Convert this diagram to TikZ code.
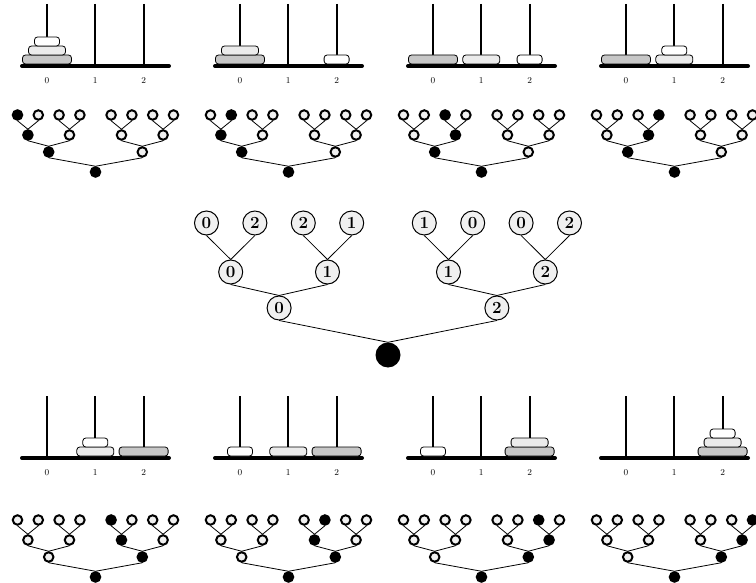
\documentclass[tikz,border=0pt]{standalone}
\usetikzlibrary{calc}

\definecolor{diskbig}{gray}{0.78}
\definecolor{diskmid}{gray}{0.92}
\definecolor{nodefill}{gray}{0.94}

\tikzset{
  peg/.style={line width=1.8pt},
  base/.style={line width=4pt, line cap=round},
  disk/.style={draw, line width=0.8pt, rounded corners=3pt, minimum height=9pt, inner sep=0pt},
  peglabel/.style={font=\fontsize{9}{9}\selectfont, inner sep=0pt},
  tn0/.style={circle, draw, line width=2pt, fill=nodefill, minimum size=9.5pt, inner sep=0pt},
  tn1/.style={circle, draw, line width=2pt, fill=black, minimum size=9.5pt, inner sep=0pt},
  tedge/.style={line width=0.8pt},
  bignode/.style={circle, draw, line width=1pt, fill=nodefill, minimum size=24pt, inner sep=0pt,
                  font=\fontsize{17}{17}\bfseries\selectfont},
  bigroot/.style={circle, fill=black, minimum size=25pt, inner sep=0pt},
  bigedge/.style={line width=0.8pt},
}

% #1 name, #2 x offset, #3 y offset of the tower, #4 y of the tree root,
% #5 #6 #7 pegs of the large, middle and small disk, #8 highlighted leaf
\newcommand\hanoipanel[8]{%
  % pegs, base and peg numbers
  \foreach \p in {0,1,2} {
    \draw[peg] ({#2+47+48.3*\p},{#3+4}) -- ({#2+47+48.3*\p},{#3+66});
    \node[peglabel] (#1-n\p) at ({#2+47+48.3*\p},{#3+81}) {\p};
  }
  \draw[base] ({#2+22},{#3+66}) -- ({#2+169},{#3+66});
  % disks
  \pgfmathtruncatemacro\mlev{(#5==#6)}
  \pgfmathtruncatemacro\slev{(#5==#7)+(#6==#7)}
  \node[disk, fill=diskbig, minimum width=49pt] (#1-L) at ({#2+47+48.3*#5},{#3+59.5}) {};
  \node[disk, fill=diskmid, minimum width=37pt] (#1-M) at ({#2+47+48.3*#6},{#3+59.5-9*\mlev}) {};
  \node[disk, fill=white,   minimum width=25pt] (#1-S) at ({#2+47+48.3*#7},{#3+59.5-9*\slev}) {};
  % binary tree
  \pgfmathsetmacro\rx{#2+95.5}
  \node[tn1] (#1-r) at (\rx,#4) {};
  \foreach \k/\q in {1/-4.5,2/4.5} {
    \pgfmathtruncatemacro\on{(\k==ceil(#8/4))}
    \node[tn\on] (#1-c\k) at ({\rx+10.4*\q},{#4-20}) {};
    \draw[tedge] (#1-c\k.south) -- (#1-r.north);
  }
  \foreach \j/\q in {1/-6.5,2/-2.5,3/2.5,4/6.5} {
    \pgfmathtruncatemacro\on{(\j==ceil(#8/2))}
    \pgfmathtruncatemacro\up{ceil(\j/2)}
    \node[tn\on] (#1-b\j) at ({\rx+10.4*\q},{#4-37}) {};
    \draw[tedge] (#1-b\j.south) -- (#1-c\up.north);
  }
  \foreach \i/\q in {1/-7.5,2/-5.5,3/-3.5,4/-1.5,5/1.5,6/3.5,7/5.5,8/7.5} {
    \pgfmathtruncatemacro\on{(\i==#8)}
    \pgfmathtruncatemacro\up{ceil(\i/2)}
    \node[tn\on] (#1-a\i) at ({\rx+10.4*\q},{#4-57}) {};
    \draw[tedge] (#1-a\i.south) -- (#1-b\up.north);
  }
}

\begin{document}
\begin{tikzpicture}[x=1pt,y=-1pt]
  \useasboundingbox (0,0) rectangle (756,583);
  \clip (0,0) rectangle (756,583);

  % top row of states
  \hanoipanel{s1}{0}{0}{172}{0}{0}{0}{1}
  \hanoipanel{s2}{193}{0}{172}{0}{0}{2}{2}
  \hanoipanel{s3}{386}{0}{172}{0}{1}{2}{3}
  \hanoipanel{s4}{579}{0}{172}{0}{1}{1}{4}

  % bottom row of states
  \hanoipanel{s5}{0}{392}{577}{2}{1}{1}{5}
  \hanoipanel{s6}{193}{392}{577}{2}{1}{0}{6}
  \hanoipanel{s7}{386}{392}{577}{2}{2}{0}{7}
  \hanoipanel{s8}{579}{392}{577}{2}{2}{2}{8}

  % labelled move tree in the middle
  \node[bigroot] (r) at (388,355) {};
  \node[bignode] (c1) at ({388-24.2*4.5},308) {0};
  \node[bignode] (c2) at ({388+24.2*4.5},308) {2};
  \node[bignode] (b1) at ({388-24.2*6.5},272) {0};
  \node[bignode] (b2) at ({388-24.2*2.5},272) {1};
  \node[bignode] (b3) at ({388+24.2*2.5},272) {1};
  \node[bignode] (b4) at ({388+24.2*6.5},272) {2};
  \node[bignode] (a1) at ({388-24.2*7.5},223) {0};
  \node[bignode] (a2) at ({388-24.2*5.5},223) {2};
  \node[bignode] (a3) at ({388-24.2*3.5},223) {2};
  \node[bignode] (a4) at ({388-24.2*1.5},223) {1};
  \node[bignode] (a5) at ({388+24.2*1.5},223) {1};
  \node[bignode] (a6) at ({388+24.2*3.5},223) {0};
  \node[bignode] (a7) at ({388+24.2*5.5},223) {0};
  \node[bignode] (a8) at ({388+24.2*7.5},223) {2};

  \draw[bigedge] (c1.south) -- (r.north);
  \draw[bigedge] (c2.south) -- (r.north);
  \draw[bigedge] (b1.south) -- (c1.north);
  \draw[bigedge] (b2.south) -- (c1.north);
  \draw[bigedge] (b3.south) -- (c2.north);
  \draw[bigedge] (b4.south) -- (c2.north);
  \draw[bigedge] (a1.south) -- (b1.north);
  \draw[bigedge] (a2.south) -- (b1.north);
  \draw[bigedge] (a3.south) -- (b2.north);
  \draw[bigedge] (a4.south) -- (b2.north);
  \draw[bigedge] (a5.south) -- (b3.north);
  \draw[bigedge] (a6.south) -- (b3.north);
  \draw[bigedge] (a7.south) -- (b4.north);
  \draw[bigedge] (a8.south) -- (b4.north);
\end{tikzpicture}
\end{document}
